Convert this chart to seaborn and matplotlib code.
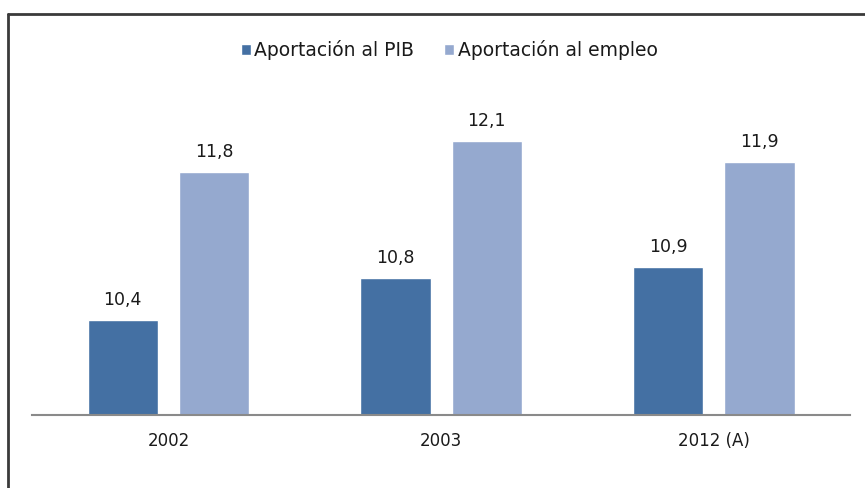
import matplotlib
matplotlib.use('Agg')
import matplotlib.pyplot as plt
import matplotlib.lines as mlines
import pandas as pd
import seaborn as sns

years = ['2002', '2003', '2012 (A)']
series = ['Aportación al PIB', 'Aportación al empleo']
pib = [10.4, 10.8, 10.9]
empleo = [11.8, 12.1, 11.9]
colors = ['#4470A3', '#95A9CF']

df = pd.DataFrame({
    'year': years * 2,
    'serie': [series[0]] * 3 + [series[1]] * 3,
    'valor': pib + empleo,
})

sns.set_theme(style='white')
plt.rcParams['font.family'] = ['DejaVu Sans']

fig = plt.figure(figsize=(8.65, 4.88), dpi=100)
ax = fig.add_axes([0.037, 0.1496, 0.946, 0.789])

sns.barplot(data=df, x='year', y='valor', hue='serie', palette=colors,
            width=0.67, gap=0.23, ax=ax, saturation=1, legend=True)

ax.set_ylim(9.5, 13.15)
ax.set_xlim(-0.5, 2.5)

for cont in ax.containers:
    ax.bar_label(cont, labels=[f'{v:.1f}'.replace('.', ',') for v in cont.datavalues],
                 padding=8, fontsize=12.5, color='#1a1a1a')

for s in ['top', 'right', 'left']:
    ax.spines[s].set_visible(False)
ax.spines['bottom'].set_color('#8a8a8a')
ax.spines['bottom'].set_linewidth(1.5)
ax.set_yticks([])
ax.set_xlabel('')
ax.set_ylabel('')
ax.tick_params(axis='x', length=0, pad=12, labelsize=12, labelcolor='#1a1a1a')

leg = ax.legend(loc='center', bbox_to_anchor=(0.51, 0.948), ncol=2, frameon=False,
                fontsize=13.5, handlelength=0.5, handleheight=0.5, handletextpad=0.2,
                columnspacing=1.6)
for t in leg.get_texts():
    t.set_color('#1a1a1a')

# outer frame (left and top edges visible)
fig.add_artist(mlines.Line2D([8 / 865, 8 / 865], [0, 1 - 14 / 488], color='#3a3a3a', lw=2))
fig.add_artist(mlines.Line2D([8 / 865, 1], [1 - 14 / 488, 1 - 14 / 488], color='#3a3a3a', lw=2))

fig.savefig('out.png', dpi=100)
